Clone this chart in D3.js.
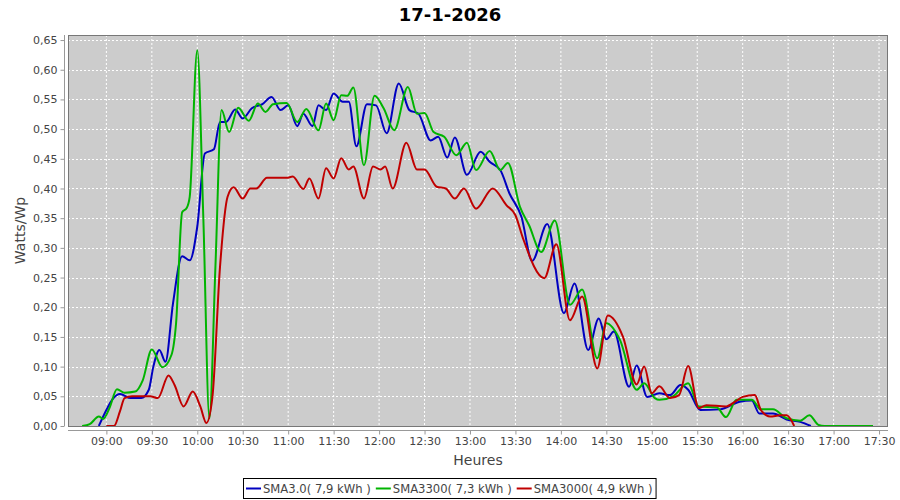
<!DOCTYPE html>
<html><head><meta charset="utf-8">
<script src="https://cdn.jsdelivr.net/npm/d3@7"></script>
<style>body{margin:0;background:#fff}svg{display:block;font-family:"DejaVu Sans",sans-serif}</style>
</head><body><svg id="c" width="900" height="500"></svg>
<script>
const title = "17-1-2026";
const yLabel = "Watts/Wp";
const xLabel = "Heures";
const seriesNames = ["SMA3.0( 7,9 kWh )", "SMA3300( 7,3 kWh )", "SMA3000( 4,9 kWh )"];
const seriesColors = ["#0000c0", "#00b400", "#c00000"];
const yTicks = [0,0.05,0.10,0.15,0.20,0.25,0.30,0.35,0.40,0.45,0.50,0.55,0.60,0.65];
const xTickLabels = ["09:00","09:30","10:00","10:30","11:00","11:30","12:00","12:30","13:00","13:30","14:00","14:30","15:00","15:30","16:00","16:30","17:00","17:30"];
const xDomain = ["08:34:40","17:35:55"];

const blueTimes = ["08:55","09:00","09:04","09:09","09:16","09:23","09:28","09:31","09:35","09:39","09:44","09:50","09:55","10:00","10:05","10:11","10:15","10:19","10:25","10:30","10:36","10:43","10:49","10:55","11:00","11:06","11:10","11:16","11:20","11:25","11:30","11:36","11:40","11:45","11:52","11:58","12:05","12:13","12:20","12:26","12:34","12:39","12:45","12:50","12:58","13:07","13:13","13:20","13:26","13:34","13:41","13:51","14:02","14:09","14:18","14:25","14:30","14:35","14:45","14:50","14:57","15:05","15:12","15:19","15:24","15:32","15:45","15:58","16:06","16:11","16:20","16:29","16:38","16:45"];
const blueValues = [0,0.027,0.045,0.054,0.047,0.047,0.061,0.10,0.128,0.108,0.207,0.286,0.279,0.336,0.459,0.466,0.512,0.512,0.533,0.518,0.535,0.542,0.554,0.532,0.540,0.505,0.526,0.505,0.540,0.532,0.560,0.546,0.546,0.471,0.542,0.540,0.493,0.577,0.532,0.526,0.481,0.487,0.452,0.486,0.423,0.462,0.445,0.431,0.392,0.352,0.278,0.340,0.190,0.240,0.128,0.181,0.146,0.159,0.066,0.102,0.049,0.055,0.052,0.069,0.061,0.027,0.028,0.041,0.043,0.021,0.021,0.011,0.007,0];

const greenTimes = ["08:44","08:49","08:55","08:58","09:02","09:07","09:12","09:19","09:24","09:30","09:37","09:43","09:46","09:50","09:53","09:55","10:00","10:04","10:08","10:12","10:16","10:21","10:27","10:34","10:40","10:45","10:50","10:59","11:06","11:12","11:20","11:25","11:30","11:35","11:39","11:43","11:50","11:57","12:03","12:10","12:19","12:25","12:30","12:36","12:43","12:51","12:58","13:04","13:13","13:20","13:25","13:33","13:39","13:47","13:56","14:06","14:14","14:24","14:30","14:39","14:50","14:55","15:02","15:05","15:14","15:24","15:31","15:43","15:49","15:56","16:06","16:12","16:20","16:29","16:38","16:44","16:50","16:54","17:26"];
const greenValues = [0,0.003,0.016,0.012,0.03,0.062,0.056,0.058,0.077,0.129,0.099,0.12,0.173,0.36,0.367,0.386,0.633,0.35,0.013,0.27,0.532,0.495,0.536,0.514,0.543,0.529,0.542,0.544,0.512,0.534,0.498,0.543,0.515,0.557,0.556,0.570,0.439,0.556,0.535,0.498,0.571,0.526,0.527,0.495,0.487,0.456,0.477,0.431,0.463,0.431,0.443,0.369,0.338,0.293,0.346,0.204,0.230,0.114,0.173,0.145,0.061,0.072,0.047,0.044,0.050,0.072,0.033,0.031,0.015,0.044,0.044,0.028,0.028,0.013,0.009,0.018,0.002,0,0];

const redTimes = ["09:00","09:05","09:09","09:12","09:17","09:29","09:34","09:41","09:45","09:51","09:57","10:02","10:06","10:10","10:15","10:20","10:24","10:30","10:35","10:39","10:46","10:59","11:03","11:10","11:14","11:20","11:25","11:30","11:35","11:40","11:43","11:50","11:56","12:01","12:04","12:09","12:18","12:25","12:30","12:38","12:44","12:50","12:56","13:04","13:15","13:24","13:30","13:35","13:49","13:57","14:06","14:14","14:24","14:31","14:41","14:50","14:55","15:00","15:05","15:12","15:18","15:24","15:31","15:36","15:49","15:55","16:00","16:08","16:12","16:18","16:25","16:29","16:34"];
const redValues = [0,0,0.025,0.047,0.050,0.050,0.047,0.085,0.069,0.033,0.058,0.033,0.005,0.049,0.268,0.386,0.402,0.383,0.400,0.400,0.418,0.418,0.420,0.399,0.417,0.383,0.434,0.417,0.451,0.432,0.437,0.383,0.437,0.432,0.437,0.400,0.477,0.432,0.432,0.403,0.400,0.383,0.400,0.366,0.400,0.372,0.355,0.316,0.249,0.306,0.178,0.218,0.097,0.186,0.150,0.070,0.100,0.055,0.067,0.047,0.052,0.101,0.030,0.035,0.033,0.041,0.049,0.052,0.027,0.016,0.018,0.018,0];

const parseHMS = d3.timeParse("%H:%M:%S");
const parseHM = d3.timeParse("%H:%M");
const svg = d3.select("#c");
const L = 68, R = 888, T = 35, B = 426;

const x = d3.scaleTime().domain(xDomain.map(parseHMS)).range([L, R]);
const y = d3.scaleLinear().domain([0, 0.6585]).range([B, T]);

// title
svg.append("text").attr("x", 450).attr("y", 21).attr("text-anchor", "middle")
  .attr("font-size", 18).attr("font-weight", "bold").attr("fill", "#000").text(title);

// plot background
svg.append("rect").attr("x", L).attr("y", T).attr("width", R - L).attr("height", B - T).attr("fill", "#cccccc");

const xTickDates = xTickLabels.map(parseHM);
// gridlines
svg.append("g").selectAll("line").data(xTickDates).join("line")
  .attr("x1", d => x(d)).attr("x2", d => x(d)).attr("y1", T).attr("y2", B)
  .attr("stroke", "#fff").attr("stroke-dasharray", "2,2").attr("stroke-width", 1);
svg.append("g").selectAll("line").data(yTicks).join("line")
  .attr("x1", L).attr("x2", R).attr("y1", d => Math.round(y(d)) + 0.5).attr("y2", d => Math.round(y(d)) + 0.5)
  .attr("stroke", "#fff").attr("stroke-dasharray", "2,2").attr("stroke-width", 1);

// clip
svg.append("clipPath").attr("id", "clip").append("rect").attr("x", L).attr("y", T).attr("width", R - L).attr("height", B - T);

const line = d3.line().x(d => x(d[0])).y(d => y(d[1])).curve(d3.curveMonotoneX);
const series = [
  [blueTimes, blueValues],
  [greenTimes, greenValues],
  [redTimes, redValues]
];
const gl = svg.append("g").attr("clip-path", "url(#clip)");
series.forEach((s, i) => {
  const pts = s[0].map((t, k) => [parseHM(t), s[1][k]]);
  gl.append("path").attr("d", line(pts)).attr("fill", "none")
    .attr("stroke", seriesColors[i]).attr("stroke-width", 2).attr("stroke-linejoin", "round");
});

// plot border
svg.append("rect").attr("x", L + 0.5).attr("y", T + 0.5).attr("width", R - L - 1).attr("height", B - T)
  .attr("fill", "none").attr("stroke", "#777").attr("stroke-width", 1);

// y axis
const yAxis = d3.axisLeft(y).tickValues(yTicks).tickSize(4).tickPadding(3)
  .tickFormat(d => d3.format(".2f")(d).replace(".", ","));
const gy = svg.append("g").attr("transform", "translate(64.5,0)").call(yAxis);
gy.select(".domain").attr("stroke", "#999").attr("d", `M0,${T}V${B}`);
gy.selectAll(".tick line").attr("stroke", "#999");
gy.selectAll(".tick text").attr("font-size", 11).attr("fill", "#444").attr("font-family", "DejaVu Sans");

// x axis
const xAxis = d3.axisBottom(x).tickValues(xTickDates).tickSize(4).tickPadding(3)
  .tickFormat(d3.timeFormat("%H:%M"));
const gx = svg.append("g").attr("transform", "translate(0,430.5)").call(xAxis);
gx.select(".domain").attr("stroke", "#999").attr("d", `M${L},0H${R}`);
gx.selectAll(".tick line").attr("stroke", "#999");
gx.selectAll(".tick text").attr("font-size", 11).attr("fill", "#444").attr("font-family", "DejaVu Sans");

// axis labels
svg.append("text").attr("x", (L + R) / 2).attr("y", 465).attr("text-anchor", "middle")
  .attr("font-size", 14).attr("fill", "#444").text(xLabel);
svg.append("text").attr("transform", `translate(25,${(T + B) / 2}) rotate(-90)`).attr("text-anchor", "middle")
  .attr("font-size", 14).attr("fill", "#444").text(yLabel);

// legend
const lg = svg.append("g");
let cx = 246;
seriesNames.forEach((n, i) => {
  lg.append("line").attr("x1", cx).attr("x2", cx + 15).attr("y1", 488.5).attr("y2", 488.5)
    .attr("stroke", seriesColors[i]).attr("stroke-width", 2);
  const t = lg.append("text").attr("x", cx + 17).attr("y", 492.5).attr("font-size", 11.6).attr("fill", "#444").text(n);
  cx += 17 + t.node().getComputedTextLength() + 5;
});
lg.insert("rect", ":first-child").attr("x", 243.5).attr("y", 478.5).attr("width", cx - 5 + 3 - 243).attr("height", 20)
  .attr("fill", "#fff").attr("stroke", "#000").attr("stroke-width", 1);
</script></body></html>
